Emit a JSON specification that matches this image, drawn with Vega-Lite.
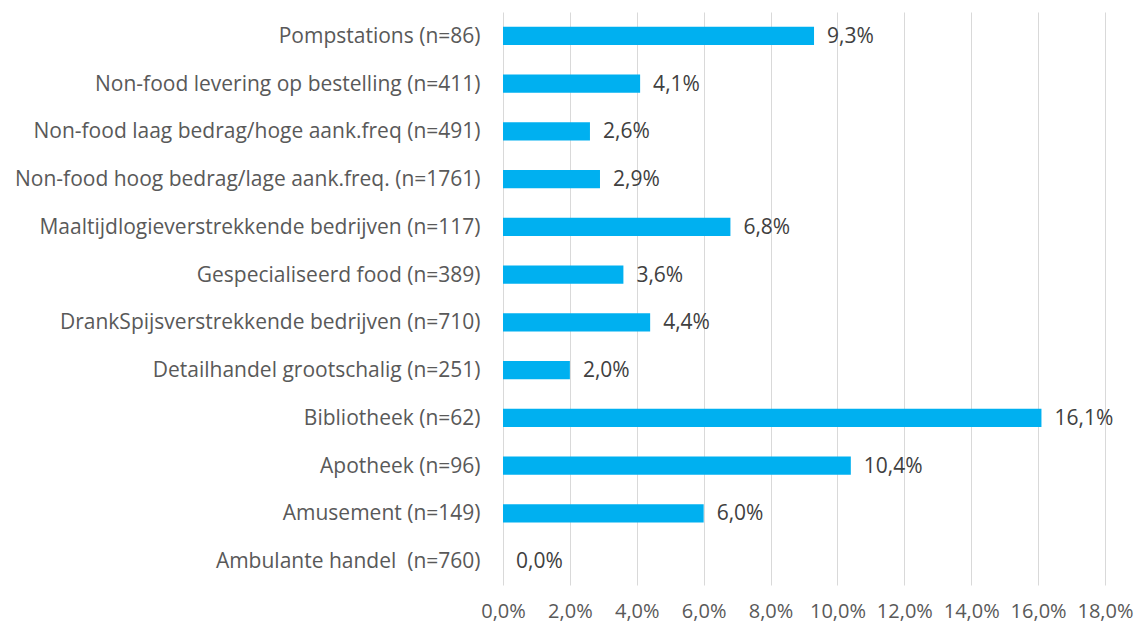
{
  "$schema": "https://vega.github.io/schema/vega-lite/v6.json",
  "autosize": {"type": "none"},
  "padding": {"left": 503, "top": 12, "right": 33, "bottom": 42},
  "width": 602,
  "height": 573,
  "background": "white",
  "config": {
    "locale": {"number": {"decimal": ",", "thousands": ".", "grouping": [3], "currency": ["€", ""]}},
    "view": {"stroke": null},
    "font": "Open Sans"
  },
  "data": {
    "values": [
      {"cat": "Pompstations (n=86)", "v": 0.093},
      {"cat": "Non-food levering op bestelling (n=411)", "v": 0.041},
      {"cat": "Non-food laag bedrag/hoge aank.freq (n=491)", "v": 0.026},
      {"cat": "Non-food hoog bedrag/lage aank.freq. (n=1761)", "v": 0.029},
      {"cat": "Maaltijdlogieverstrekkende bedrijven (n=117)", "v": 0.068},
      {"cat": "Gespecialiseerd food (n=389)", "v": 0.036},
      {"cat": "DrankSpijsverstrekkende bedrijven (n=710)", "v": 0.044},
      {"cat": "Detailhandel grootschalig (n=251)", "v": 0.02},
      {"cat": "Bibliotheek (n=62)", "v": 0.161},
      {"cat": "Apotheek (n=96)", "v": 0.104},
      {"cat": "Amusement (n=149)", "v": 0.06},
      {"cat": "Ambulante handel \u00a0(n=760)", "v": 0.0}
    ]
  },
  "encoding": {
    "y": {
      "field": "cat", "type": "nominal", "sort": null,
      "scale": {"paddingInner": 0.62, "paddingOuter": 0.31},
      "axis": {"title": null, "domain": false, "ticks": false, "labelPadding": 23, "labelFontSize": 21, "labelColor": "#595959", "labelFont": "Open Sans", "labelLimit": 600, "labelOffset": 1}
    },
    "x": {
      "field": "v", "type": "quantitative",
      "scale": {"domain": [0, 0.18], "nice": false},
      "axis": {"title": null, "format": ".1%", "values": [0, 0.02, 0.04, 0.06, 0.08, 0.1, 0.12, 0.14, 0.16, 0.18], "domain": false, "ticks": false, "grid": true, "gridColor": "#d9d9d9", "gridWidth": 1, "labelPadding": 16, "labelFontSize": 20, "labelColor": "#595959", "labelFont": "Open Sans", "labelFlush": false}
    }
  },
  "layer": [
    {"mark": {"type": "bar", "color": "#00B0F0"}},
    {
      "mark": {"type": "text", "align": "left", "baseline": "middle", "dx": 13, "dy": 1, "fontSize": 21, "color": "#404040", "font": "Open Sans"},
      "encoding": {"text": {"field": "v", "type": "quantitative", "format": ".1%"}}
    }
  ]
}
